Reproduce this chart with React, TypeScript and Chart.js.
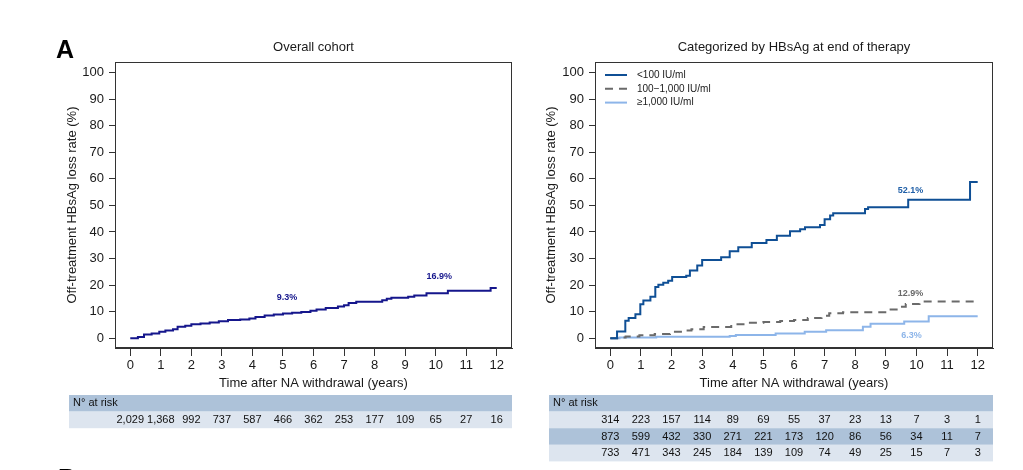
import React, { useEffect, useRef } from "react";
import { Chart, registerables } from "chart.js";
Chart.register(...registerables);

const FONT = "'Liberation Sans', Arial, Helvetica, sans-serif";

// ---- axis ticks ----
const xTicks = [0, 1, 2, 3, 4, 5, 6, 7, 8, 9, 10, 11, 12];
const yTicks = [0, 10, 20, 30, 40, 50, 60, 70, 80, 90, 100];

// ---- text ----
const leftTitle = "Overall cohort";
const rightTitle = "Categorized by HBsAg at end of therapy";
const xTitle = "Time after NA withdrawal (years)";
const yTitle = "Off-treatment HBsAg loss rate (%)";
const riskHeader = "N° at risk";
const seriesNames = ["<100 IU/ml", "100\u22121,000 IU/ml", "\u22651,000 IU/ml"];

// ---- overall cohort (cumulative %, step function) ----
const overallT = [0, 0.25, 0.45, 0.7, 0.95, 1.15, 1.4, 1.55, 1.8, 2.0, 2.3, 2.6, 2.9, 3.2, 3.6, 3.9, 4.1, 4.4, 4.7, 5.0, 5.3, 5.6, 5.9, 6.1, 6.4, 6.8, 7.0, 7.15, 7.4, 8.25, 8.4, 8.55, 9.1, 9.3, 9.7, 10.4, 11.8, 12];
const overallV = [0, 0.4, 1.4, 1.8, 2.4, 2.9, 3.4, 4.3, 4.7, 5.2, 5.5, 5.9, 6.4, 6.8, 7.0, 7.4, 8.0, 8.5, 8.9, 9.3, 9.6, 9.9, 10.3, 10.8, 11.4, 11.9, 12.4, 13.2, 13.7, 14.3, 14.8, 15.2, 15.6, 16.1, 16.9, 17.9, 18.9, 18.9];

// ---- by HBsAg at end of therapy ----
const lowT = [0, 0.22, 0.49, 0.6, 0.82, 0.98, 1.08, 1.31, 1.47, 1.57, 1.73, 1.89, 2.02, 2.48, 2.6, 2.84, 3.0, 3.62, 3.9, 4.18, 4.62, 5.1, 5.44, 5.87, 6.2, 6.36, 6.85, 7.0, 7.18, 7.28, 8.32, 8.42, 9.73, 11.75, 12];
const lowV = [0, 2.5, 6.6, 7.6, 9.0, 12.8, 14.2, 15.6, 19.3, 20.1, 20.9, 21.6, 23.0, 23.5, 25.5, 27.4, 29.4, 30.5, 32.7, 34.2, 35.8, 37.0, 38.6, 40.3, 41.0, 41.8, 42.6, 44.8, 46.2, 47.0, 48.6, 49.3, 52.1, 58.8, 58.8];
const midT = [0, 0.3, 0.5, 0.95, 1.45, 1.95, 2.45, 2.65, 3.05, 3.95, 4.5, 5.0, 5.55, 6.0, 6.45, 6.9, 7.15, 7.6, 9.05, 9.4, 9.65, 10.1, 12];
const midV = [0, 0.3, 0.6, 1.1, 1.6, 2.4, 2.9, 3.4, 4.2, 5.2, 5.8, 6.1, 6.5, 6.8, 7.6, 8.4, 9.4, 9.8, 10.8, 11.8, 12.9, 13.8, 13.8];
const highT = [0, 0.3, 1.5, 3.9, 4.1, 5.4, 6.35, 7.05, 8.25, 8.5, 9.6, 10.4, 12];
const highV = [0, 0.3, 0.5, 0.8, 1.2, 1.8, 2.4, 3.0, 4.3, 5.4, 6.3, 8.3, 8.3];

// ---- annotated values ----
const overallAnnotX = [5, 10];
const overallAnnotV = [9.3, 16.9];
const groupAnnotX = [10, 10, 10];
const groupAnnotV = [52.1, 12.9, 6.3];

// ---- numbers at risk ----
const riskOverall = [2029, 1368, 992, 737, 587, 466, 362, 253, 177, 109, 65, 27, 16];
const riskLow = [314, 223, 157, 114, 89, 69, 55, 37, 23, 13, 7, 3, 1];
const riskMid = [873, 599, 432, 330, 271, 221, 173, 120, 86, 56, 34, 11, 7];
const riskHigh = [733, 471, 343, 245, 184, 139, 109, 74, 49, 25, 15, 7, 3];

// ---- styles ----
const NAVY = "#15168c";
const BLUE = "#0f4f95";
const GREY = "#6a6a6a";
const LIGHT = "#8db5e9";
const HEAD_BG = "#adc2d9";
const ROW_LIGHT = "#dde5ef";
const ROW_DARK = "#adc2d9";

const pts = (t: number[], v: number[]) => t.map((x, i) => ({ x, y: v[i] }));

const fmt = (n: number) => n.toLocaleString("en-US");

type Annot = { x: number; v: number; color: string; dx: number; dy: number };

type PanelCfg = {
  title: string;
  datasets: any[];
  risk: number[][];
  annots: Annot[];
  legend: boolean;
  letter: boolean;
  padLeft: number;
  padRight: number;
  yTitlePad: number;
};

function decorPlugin(cfg: PanelCfg) {
  return {
    id: "panelDecor",
    afterDraw(chart: any) {
      const { ctx, chartArea: a, scales } = chart;
      const xs = scales.x;
      const ys = scales.y;
      ctx.save();
      // plot box
      ctx.strokeStyle = "#333";
      ctx.lineWidth = 1;
      ctx.setLineDash([]);
      ctx.strokeRect(Math.round(a.left) + 0.5, Math.round(a.top) + 0.5, Math.round(a.right - a.left) - 1, Math.round(a.bottom - a.top) - 1);
      // title
      ctx.fillStyle = "#1a1a1a";
      ctx.font = `13px ${FONT}`;
      ctx.textAlign = "center";
      ctx.textBaseline = "middle";
      ctx.fillText(cfg.title, (a.left + a.right) / 2, a.top - 15);
      // panel letters
      if (cfg.letter) {
        ctx.font = `bold 25px ${FONT}`;
        ctx.textAlign = "left";
        ctx.textBaseline = "alphabetic";
        ctx.fillStyle = "#000";
        ctx.fillText("A", a.left - 59, 58);
        ctx.fillText("B", a.left - 57, 487);
      }
      // annotations
      ctx.font = `bold 9px ${FONT}`;
      ctx.textAlign = "center";
      ctx.textBaseline = "middle";
      cfg.annots.forEach((an) => {
        ctx.fillStyle = an.color;
        ctx.fillText(an.v.toFixed(1) + "%", xs.getPixelForValue(an.x) + an.dx, ys.getPixelForValue(an.v) + an.dy);
      });
      // legend
      if (cfg.legend) {
        cfg.datasets.forEach((ds: any, i: number) => {
          const y = a.top + 13 + i * 13.8;
          ctx.strokeStyle = ds.borderColor;
          ctx.lineWidth = ds.borderWidth;
          ctx.setLineDash(ds.borderDash || []);
          ctx.beginPath();
          ctx.moveTo(a.left + 10, y);
          ctx.lineTo(a.left + 32, y);
          ctx.stroke();
          ctx.setLineDash([]);
          ctx.fillStyle = "#1a1a1a";
          ctx.font = `10px ${FONT}`;
          ctx.textAlign = "left";
          ctx.textBaseline = "middle";
          ctx.fillText(ds.label, a.left + 42, y);
        });
      }
      // at-risk table
      const tl = a.left - 46;
      const tw = a.right - tl;
      let y = a.bottom + 47;
      const rh = 16.6;
      ctx.fillStyle = HEAD_BG;
      ctx.fillRect(tl, y, tw, rh);
      ctx.fillStyle = "#111";
      ctx.font = `11px ${FONT}`;
      ctx.textAlign = "left";
      ctx.textBaseline = "middle";
      ctx.fillText(riskHeader, tl + 4, y + rh / 2);
      cfg.risk.forEach((row, r) => {
        y += rh;
        ctx.fillStyle = r % 2 === 0 ? ROW_LIGHT : ROW_DARK;
        ctx.fillRect(tl, y, tw, rh);
        ctx.fillStyle = "#111";
        ctx.textAlign = "center";
        row.forEach((n, i) => {
          ctx.fillText(fmt(n), xs.getPixelForValue(xTicks[i]), y + rh / 2);
        });
      });
      ctx.restore();
    },
  };
}

function Panel({ cfg, left, width }: { cfg: PanelCfg; left: number; width: number }) {
  const ref = useRef<HTMLCanvasElement>(null);
  useEffect(() => {
    if (!ref.current) return;
    const tickFont = { size: 13, family: FONT };
    const chart = new Chart(ref.current, {
      type: "line",
      data: { datasets: cfg.datasets },
      options: {
        animation: false,
        responsive: false,
        maintainAspectRatio: false,
        layout: { padding: { left: cfg.padLeft, right: cfg.padRight, top: 62, bottom: 77 } },
        plugins: { legend: { display: false }, tooltip: { enabled: false }, title: { display: false } },
        elements: { point: { radius: 0 } },
        scales: {
          x: {
            type: "linear",
            min: -0.5,
            max: 12.5,
            afterBuildTicks: (s: any) => {
              s.ticks = xTicks.map((v) => ({ value: v }));
            },
            afterFit: (s: any) => {
              s.height = 45;
            },
            grid: { drawOnChartArea: false, drawTicks: true, tickLength: 8, color: "#333", tickColor: "#333" },
            border: { display: true, color: "#333" },
            ticks: { autoSkip: false, maxRotation: 0, padding: 2, color: "#1a1a1a", font: tickFont },
            title: { display: true, text: xTitle, color: "#1a1a1a", font: tickFont, padding: { top: 0, bottom: 2 } },
          },
          y: {
            type: "linear",
            min: -3.7,
            max: 104,
            afterBuildTicks: (s: any) => {
              s.ticks = yTicks.map((v) => ({ value: v }));
            },
            afterFit: (s: any) => {
              s.width = 55;
            },
            grid: { drawOnChartArea: false, drawTicks: true, tickLength: 6, color: "#333", tickColor: "#333" },
            border: { display: true, color: "#333" },
            ticks: { autoSkip: false, padding: 5, color: "#1a1a1a", font: tickFont },
            title: { display: true, text: yTitle, color: "#1a1a1a", font: tickFont, padding: { top: cfg.yTitlePad, bottom: 0 } },
          },
        },
      } as any,
      plugins: [decorPlugin(cfg)],
    });
    return () => chart.destroy();
  }, []);
  return (
    <canvas
      ref={ref}
      width={width}
      height={470}
      style={{ position: "absolute", left, top: 0, width, height: 470, display: "block" }}
    />
  );
}

const lineDs = (label: string, t: number[], v: number[], color: string, dash?: number[]) => ({
  label,
  data: pts(t, v),
  borderColor: color,
  backgroundColor: color,
  borderWidth: 2,
  borderDash: dash || [],
  stepped: true,
  fill: false,
  pointRadius: 0,
});

export default function App() {
  const leftCfg: PanelCfg = {
    title: leftTitle,
    datasets: [lineDs("Overall", overallT, overallV, NAVY)],
    risk: [riskOverall],
    annots: [
      { x: overallAnnotX[0], v: overallAnnotV[0], color: NAVY, dx: 4, dy: -15.6 },
      { x: overallAnnotX[1], v: overallAnnotV[1], color: NAVY, dx: 3.5, dy: -16.4 },
    ],
    legend: false,
    letter: true,
    padLeft: 60,
    padRight: 8,
    yTitlePad: 4.7,
  };
  const rightCfg: PanelCfg = {
    title: rightTitle,
    datasets: [
      lineDs(seriesNames[0], lowT, lowV, BLUE),
      lineDs(seriesNames[1], midT, midV, GREY, [8, 6]),
      lineDs(seriesNames[2], highT, highV, LIGHT),
    ],
    risk: [riskLow, riskMid, riskHigh],
    annots: [
      { x: groupAnnotX[0], v: groupAnnotV[0], color: "#2160a8", dx: -6, dy: -9.2 },
      { x: groupAnnotX[1], v: groupAnnotV[1], color: GREY, dx: -6, dy: -10 },
      { x: groupAnnotX[2], v: groupAnnotV[2], color: LIGHT, dx: -5, dy: 14.4 },
    ],
    legend: true,
    letter: false,
    padLeft: 20,
    padRight: 30,
    yTitlePad: 3.2,
  };
  return (
    <div style={{ position: "absolute", left: 0, top: 0, width: 1023, height: 470, overflow: "hidden", background: "#fff" }}>
      <Panel cfg={leftCfg} left={0} width={520} />
      <Panel cfg={rightCfg} left={520} width={503} />
    </div>
  );
}
